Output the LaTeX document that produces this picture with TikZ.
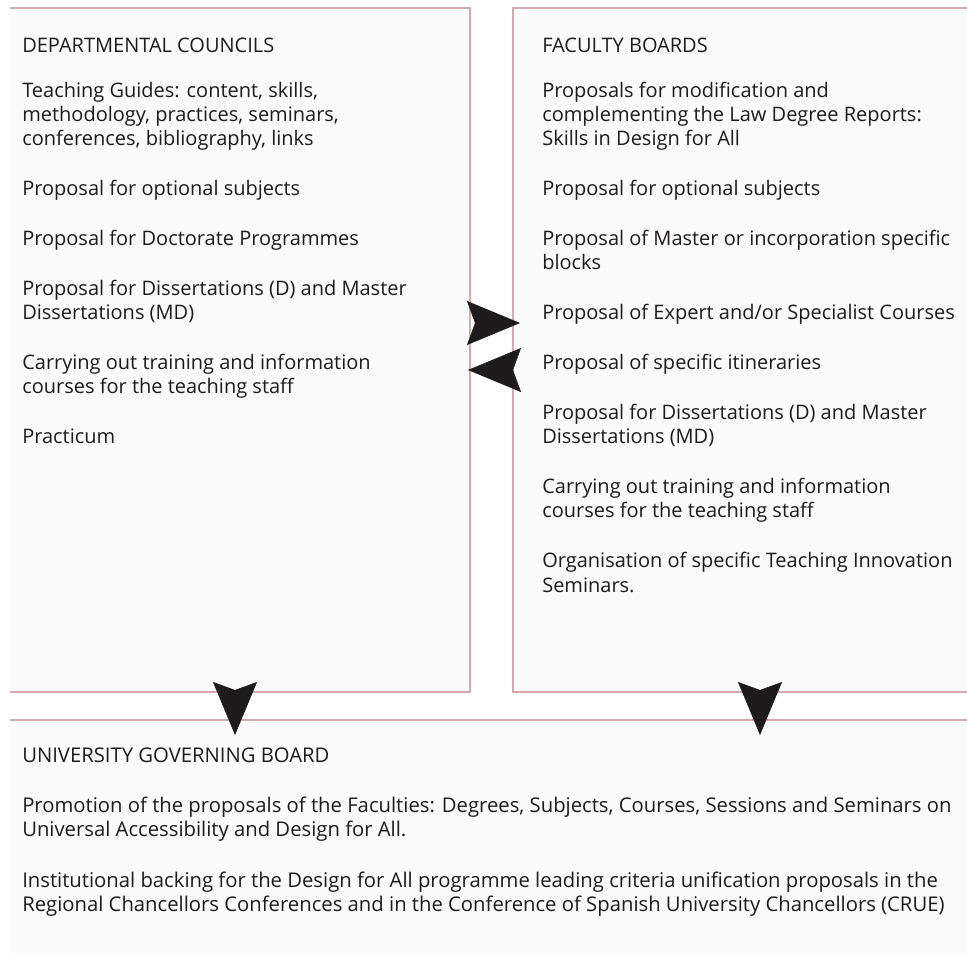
\documentclass[tikz,border=0pt]{standalone}
\usepackage{fontspec}
\setmainfont{Open Sans}
\usetikzlibrary{arrows.meta,positioning}

\definecolor{framered}{RGB}{214,170,170}
\definecolor{inkgrey}{RGB}{30,27,28}
\definecolor{panelgrey}{RGB}{250,250,250}

\tikzset{
  frame/.style={draw=framered, line width=1pt},
  blurb/.style={anchor=north west, align=left, inner sep=0pt, text=inkgrey,
    font=\fontsize{15pt}{18.2pt}\selectfont},
  bigarrow/.style={-{Stealth[length=39.75pt, width=33pt, inset=6pt]},
    shorten <=6.5pt, line width=0.4pt, draw=inkgrey, fill=inkgrey},
}

\begin{document}
\begin{tikzpicture}[x=0.75pt, y=-0.75pt]
  \useasboundingbox (0,0) rectangle (967,953);

  % Panels
  \fill[panelgrey] (10,8) rectangle (470,692);
  \fill[panelgrey] (513,8) rectangle (967,692);
  \fill[panelgrey] (10,720) rectangle (967,953);
  \draw[frame] (10,8) -- (470,8) -- (470,692) -- (10,692);
  \draw[frame] (967,8) -- (513,8) -- (513,692) -- (967,692);
  \draw[frame] (10,720) -- (967,720);

  % Texts
  \node[blurb] (councils) at (22,37.7) {DEPARTMENTAL COUNCILS\\[15.5pt]
    Teaching Guides: content, skills,\\ methodology, practices, seminars,\\ conferences, bibliography, links\\[19.2pt]
    Proposal for optional subjects\\[19.2pt]
    Proposal for Doctorate Programmes\\[19.2pt]
    Proposal for Dissertations (D) and Master\\ Dissertations (MD)\\[19.2pt]
    Carrying out training and information\\ courses for the teaching staff\\[19.2pt]
    Practicum};

  \node[blurb] (boards) at (542,37.7) {FACULTY BOARDS\\[15.5pt]
    Proposals for modification and\\ complementing the Law Degree Reports:\\ Skills in Design for All\\[19.2pt]
    Proposal for optional subjects\\[19.2pt]
    Proposal of Master or incorporation specific\\ blocks\\[19.2pt]
    Proposal of Expert and/or Specialist Courses\\[19.2pt]
    Proposal of specific itineraries\\[19.2pt]
    Proposal for Dissertations (D) and Master\\ Dissertations (MD)\\[19.2pt]
    Carrying out training and information\\ courses for the teaching staff\\[19.2pt]
    Organisation of specific Teaching Innovation\\ Seminars.};

  \node[blurb, font=\fontsize{15.2pt}{18.3pt}\selectfont] (governing) at (22,747.5) {UNIVERSITY GOVERNING BOARD\\[19pt]
    Promotion of the proposals of the Faculties: Degrees, Subjects, Courses, Sessions and Seminars on\\ Universal Accessibility and Design for All.\\[19.6pt]
    Institutional backing for the Design for All programme leading criteria unification proposals in the\\ Regional Chancellors Conferences and in the Conference of Spanish University Chancellors (CRUE)};

  % Arrows
  \coordinate (c-out) at (467,323);
  \coordinate (f-in) at (520,323);
  \coordinate (f-out) at (520,370);
  \coordinate (c-in) at (468,370);
  \coordinate (c-down) at (235,682);
  \coordinate (g-left) at (235,735);
  \coordinate (f-down) at (760,682);
  \coordinate (g-right) at (760,735);

  \draw[bigarrow] (c-out) -- (f-in);
  \draw[bigarrow] (f-out) -- (c-in);
  \draw[bigarrow] (c-down) -- (g-left);
  \draw[bigarrow] (f-down) -- (g-right);

\end{tikzpicture}
\end{document}
